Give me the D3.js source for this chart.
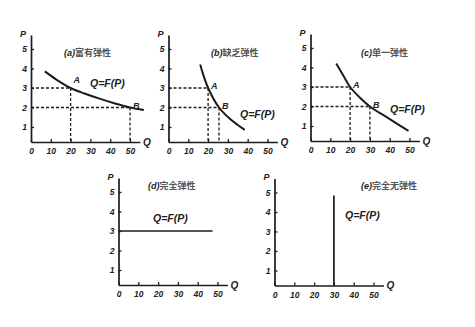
<!DOCTYPE html>
<html>
<head>
<meta charset="utf-8">
<script src="https://cdn.jsdelivr.net/npm/d3@7"></script>
<style>
  html, body { margin: 0; padding: 0; background: #fff; }
  .lbl { font-family: "Liberation Sans", Arial, sans-serif; font-weight: bold; font-style: italic; fill: #222; }
  .cjk { font-family: "Noto Sans CJK SC", sans-serif; font-style: normal; font-weight: 700; }
</style>
</head>
<body>
<div id="chart"></div>
<script>
// tick values shared by every panel
const qTicks = [0, 10, 20, 30, 40, 50]
const pTicks = [1, 2, 3, 4, 5]

// demand curves (Q, P)
const curveA_Q = [7, 13, 20, 27, 35, 42, 50, 57]
const curveA_P = [3.85, 3.42, 3.0, 2.72, 2.44, 2.22, 2.0, 1.87]
const curveB_Q = [16, 17.5, 20, 25.5, 31, 35, 38.5]
const curveB_P = [4.2, 3.7, 3.0, 2.0, 1.42, 1.1, 0.85]
const curveC_Q = [13, 16.5, 20, 25, 30, 38.5, 44, 49.5]
const curveC_P = [4.2, 3.6, 3.0, 2.45, 2.0, 1.45, 1.1, 0.75]
const curveD_Q = [0, 47.5]
const curveD_P = [3, 3]
const curveE_Q = [30, 30]
const curveE_P = [0.23, 4.85]

// marked points A and B
const pointsA = [{name: "A", q: 20, p: 3}, {name: "B", q: 50, p: 2}]
const pointsB = [{name: "A", q: 20, p: 3}, {name: "B", q: 25.5, p: 2}]
const pointsC = [{name: "A", q: 20, p: 3}, {name: "B", q: 30, p: 2}]

const titles = [["(a)", "富有弹性"], ["(b)", "缺乏弹性"], ["(c)", "单一弹性"], ["(d)", "完全弹性"], ["(e)", "完全无弹性"]]

// layout of each small chart
const panels = [
    {ox: 31,    oy: 142,   q: curveA_Q, p: curveA_P, pts: pointsA, title: titles[0], tx: 64,  ty: 53,  fx: 90,  fy: 83,  smooth: true},
    {ox: 168.5, oy: 142,   q: curveB_Q, p: curveB_P, pts: pointsB, title: titles[1], tx: 211, ty: 53,  fx: 240, fy: 114, smooth: true},
    {ox: 310.5, oy: 141,   q: curveC_Q, p: curveC_P, pts: pointsC, title: titles[2], tx: 361, ty: 53,  fx: 390, fy: 109, smooth: true},
    {ox: 118.5, oy: 285,   q: curveD_Q, p: curveD_P, pts: [],      title: titles[3], tx: 148, ty: 186, fx: 153, fy: 218, smooth: false},
    {ox: 274.5, oy: 285.5, q: curveE_Q, p: curveE_P, pts: [],      title: titles[4], tx: 361, ty: 186, fx: 345, fy: 215, smooth: false}
]

const width = 475
const height = 327
const ink = "#1c1c1c"

const svg = d3.select("#chart")
    .append("svg")
    .attr("width", width)
    .attr("height", height)
    .attr("viewBox", [0, 0, width, height])

svg.append("rect").attr("width", width).attr("height", height).attr("fill", "#fff")

panels.forEach(pn => {
    const x = d3.scaleLinear().domain([0, 55]).range([pn.ox, pn.ox + 55 * 1.98])
    const y = d3.scaleLinear().domain([0.23, 5.72]).range([pn.oy, pn.oy - 5.49 * 19.5])
    const g = svg.append("g")

    // dashed guides to A and B
    const guides = g.append("g")
        .attr("stroke", ink)
        .attr("stroke-width", 1.3)
        .attr("stroke-dasharray", "3,2")
    pn.pts.forEach(d => {
        guides.append("line")
            .attr("x1", x(0)).attr("x2", x(d.q))
            .attr("y1", y(d.p)).attr("y2", y(d.p))
        guides.append("line")
            .attr("x1", x(d.q)).attr("x2", x(d.q))
            .attr("y1", y(d.p)).attr("y2", y(0.23))
    })

    // axes
    const xAxis = g.append("g")
        .attr("transform", `translate(0,${pn.oy})`)
        .call(d3.axisBottom(x).tickValues(qTicks).tickFormat(d3.format("d"))
            .tickSize(-3).tickSizeOuter(0).tickPadding(6))
    const yAxis = g.append("g")
        .attr("transform", `translate(${pn.ox},0)`)
        .call(d3.axisLeft(y).tickValues(pTicks).tickFormat(d3.format("d"))
            .tickSize(-3).tickSizeOuter(0).tickPadding(4))
    ;[xAxis, yAxis].forEach(ax => {
        ax.select(".domain").attr("stroke", ink).attr("stroke-width", 1.7)
        ax.selectAll(".tick line").attr("stroke", ink).attr("stroke-width", 1.3)
        ax.selectAll(".tick text")
            .attr("class", "lbl")
            .attr("fill", "#333")
            .style("font-size", "8.5px")
        ax.attr("font-family", null).attr("font-size", null)
    })

    g.append("text").attr("class", "lbl")
        .attr("x", x(55) + 3).attr("y", pn.oy).attr("dy", "0.35em")
        .style("font-size", "10px")
        .text("Q")
    g.append("text").attr("class", "lbl")
        .attr("x", pn.ox - 8).attr("y", y(5.72) + 2)
        .attr("text-anchor", "middle")
        .style("font-size", "9px")
        .text("P")

    // demand curve
    const line = d3.line()
        .x(i => x(pn.q[i]))
        .y(i => y(pn.p[i]))
        .curve(pn.smooth ? d3.curveCatmullRom.alpha(0.5) : d3.curveLinear)
    g.append("path")
        .attr("d", line(d3.range(pn.q.length)))
        .attr("fill", "none")
        .attr("stroke", ink)
        .attr("stroke-width", pn.smooth ? 2 : 1.7)

    // point labels
    g.selectAll("text.pt")
        .data(pn.pts)
        .enter().append("text")
        .attr("class", "lbl pt")
        .attr("x", d => x(d.q) + 3)
        .attr("y", d => y(d.p) - (d.name === "A" && pn.ox < 100 ? 8 : 2))
        .attr("dy", "0.35em")
        .style("font-size", "9px")
        .text(d => d.name)

    g.append("text").attr("class", "lbl")
        .attr("x", pn.fx).attr("y", pn.fy).attr("dy", "0.35em")
        .style("font-size", "10.5px")
        .text("Q=F(P)")

    const t = g.append("text").attr("class", "lbl")
        .attr("x", pn.tx).attr("y", pn.ty).attr("dy", "0.35em")
        .attr("fill", "#444")
        .style("font-size", "9px")
    t.append("tspan").text(pn.title[0])
    t.append("tspan").attr("class", "cjk").style("fill", "#555").text(pn.title[1])
})
</script>
</body>
</html>
